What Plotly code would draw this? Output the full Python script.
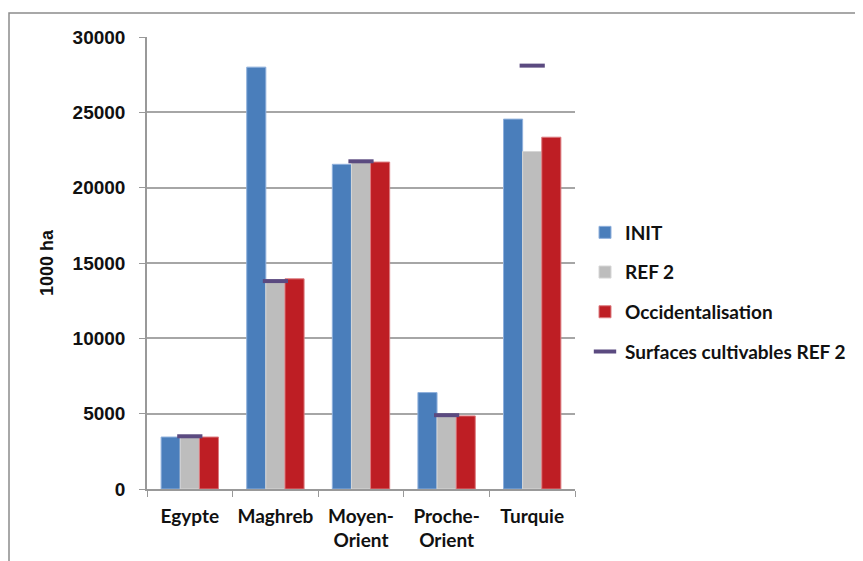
import plotly.graph_objects as go

# --- data (1000 ha)
regions = ["Egypte", "Maghreb", "Moyen-<br>Orient", "Proche-<br>Orient", "Turquie"]
init = [3450, 28000, 21550, 6400, 24550]
ref2 = [3450, 13750, 21700, 4850, 22400]
occidentalisation = [3450, 13950, 21700, 4850, 23350]
surfaces_ref2 = [3500, 13800, 21750, 4900, 28100]
y_ticks = [0, 5000, 10000, 15000, 20000, 25000, 30000]

# page body has an 8px margin, so everything is shifted by it
OFF = 8
W, H = 863 - OFF, 561 - OFF
L, R, T, B = 147 - OFF, 575 - OFF, 37 - OFF, 489 - OFF  # plot area in pixels

label_font = dict(family="Lato, Noto Sans, sans-serif", size=19, color="#111", weight="bold")
legend_font = dict(family="Lato, Noto Sans, sans-serif", size=19, color="#111", weight="bold")
num_font = dict(family="Liberation Sans, Arial, sans-serif", size=19, color="#111", weight="bold")

fig = go.Figure()

bar_series = [
    ("INIT", init, "#4a7ebb", "#8fb0dc"),
    ("REF 2", ref2, "#bdbdbd", "#d6d6d6"),
    ("Occidentalisation", occidentalisation, "#be1e24", "#dc7c80"),
]
for name, vals, col, edge in bar_series:
    fig.add_trace(go.Bar(
        x=regions, y=vals, name=name, legendgroup=name,
        marker=dict(color=col, line=dict(color=edge, width=1)),
    ))

fig.add_trace(go.Scatter(
    x=regions, y=surfaces_ref2, name="Surfaces cultivables REF 2",
    legendgroup="surf", mode="markers",
    marker=dict(symbol="line-ew", size=18, color="#5b4a80",
                line=dict(color="#5b4a80", width=4)),
))

# outer chart frame
fx0 = (9 - OFF - L) / (R - L)
fx1 = (W + 5 - L) / (R - L)
fy1 = 1 + (T - (13 - OFF)) / (B - T)
fy0 = -(H + 5 - B) / (B - T)
fig.add_shape(type="rect", xref="paper", yref="paper",
              x0=fx0, x1=fx1, y0=fy0, y1=fy1,
              line=dict(color="#8c8c8c", width=1.5), fillcolor="rgba(0,0,0,0)")

fig.update_layout(
    width=W, height=H,
    margin=dict(l=L, r=W - R, t=T, b=H - B, autoexpand=False),
    paper_bgcolor="white", plot_bgcolor="white",
    barmode="group", bargap=0.33, bargroupgap=0,
    showlegend=True,
    legend=dict(
        x=(585 - OFF - L) / (R - L), y=(B - (292 - OFF)) / (B - T),
        xanchor="left", yanchor="middle",
        font=legend_font, traceorder="grouped", tracegroupgap=12,
        itemwidth=30,
    ),
    font=dict(family="Liberation Sans, Arial, sans-serif", color="#111"),
)

fig.update_xaxes(
    tickson="boundaries", ticks="outside", ticklen=6, tickcolor="#999",
    showline=True, linecolor="#999", linewidth=1.5,
    tickfont=label_font, showgrid=False, automargin=False,
    tickangle=0, ticklabelstandoff=9,
)
fig.update_yaxes(
    range=[0, 30000], tickvals=y_ticks, ticktext=[str(v) for v in y_ticks],
    ticks="outside", ticklen=6, tickcolor="#999",
    showline=True, linecolor="#999", linewidth=1.5,
    showgrid=True, gridcolor="#a6a6a6", gridwidth=1.5,
    zeroline=False, automargin=False,
    tickfont=num_font, ticklabelstandoff=10,
    title=dict(text="1000 ha", standoff=14,
               font=dict(family="Liberation Sans, Arial, sans-serif", size=18,
                         color="#111", weight="bold")),
)

fig.write_html("out.html")
